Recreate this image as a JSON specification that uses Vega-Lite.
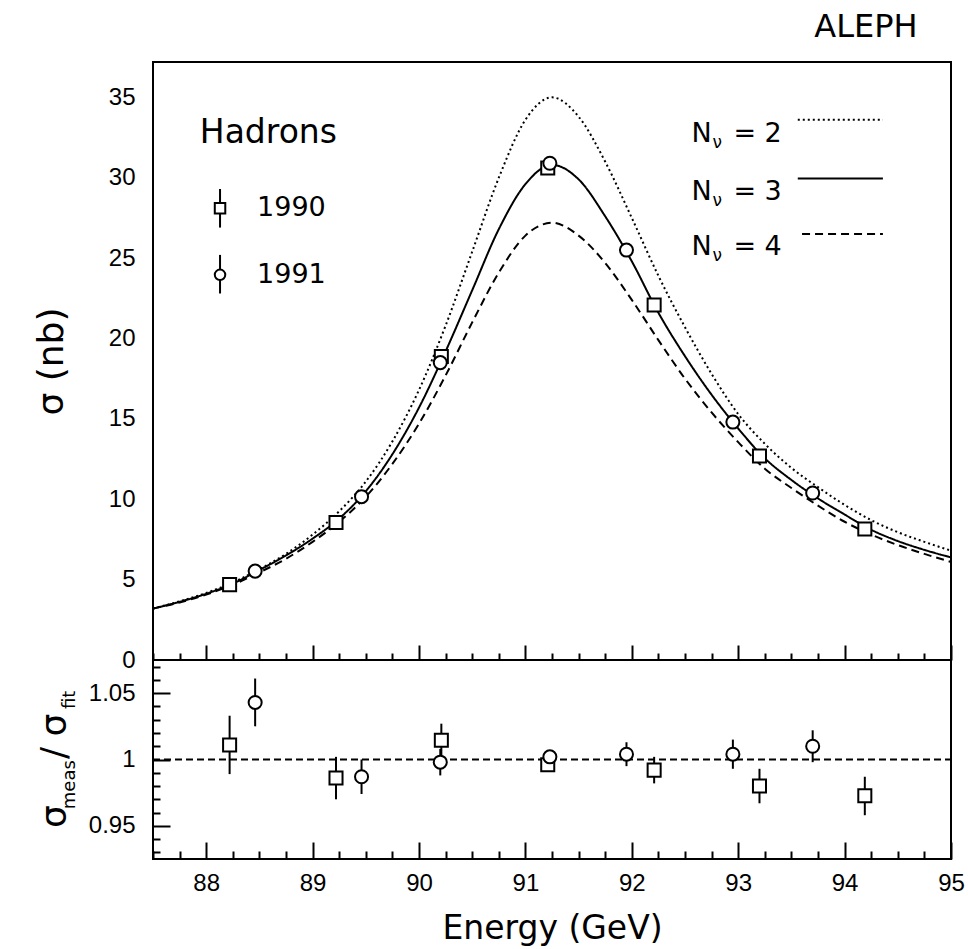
{
  "$schema": "https://vega.github.io/schema/vega-lite/v6.json",
  "background": "white",
  "padding": {"left": 32, "top": 9, "right": 5, "bottom": 5},
  "spacing": 0,
  "bounds": "flush",
  "config": {
    "view": {"stroke": "black", "strokeWidth": 2},
    "font": "DejaVu Sans",
    "text": {"font": "DejaVu Sans", "color": "black"},
    "axis": {
      "domain": false, "grid": false,
      "labelFont": "Liberation Sans", "labelFontSize": 24, "labelColor": "black",
      "tickColor": "black", "tickWidth": 2,
      "titleFont": "DejaVu Sans", "titleFontWeight": "normal", "titleColor": "black"
    }
  },
  "datasets": {
    "curves": [
      {"E": 87.5, "s": 3.2, "N": "3"}, {"E": 87.75, "s": 3.62, "N": "3"}, {"E": 88.0, "s": 4.12, "N": "3"}, {"E": 88.25, "s": 4.75, "N": "3"},
      {"E": 88.5, "s": 5.6, "N": "3"}, {"E": 88.75, "s": 6.5, "N": "3"}, {"E": 89.0, "s": 7.55, "N": "3"}, {"E": 89.25, "s": 8.8, "N": "3"},
      {"E": 89.5, "s": 10.5, "N": "3"}, {"E": 89.75, "s": 12.8, "N": "3"}, {"E": 90.0, "s": 15.7, "N": "3"}, {"E": 90.25, "s": 19.2, "N": "3"},
      {"E": 90.5, "s": 23.0, "N": "3"}, {"E": 90.75, "s": 26.8, "N": "3"}, {"E": 91.0, "s": 29.6, "N": "3"}, {"E": 91.25, "s": 30.8, "N": "3"},
      {"E": 91.5, "s": 29.9, "N": "3"}, {"E": 91.75, "s": 27.6, "N": "3"}, {"E": 92.0, "s": 24.8, "N": "3"}, {"E": 92.25, "s": 21.6, "N": "3"},
      {"E": 92.5, "s": 18.9, "N": "3"}, {"E": 92.75, "s": 16.5, "N": "3"}, {"E": 93.0, "s": 14.4, "N": "3"}, {"E": 93.25, "s": 12.55, "N": "3"},
      {"E": 93.5, "s": 11.2, "N": "3"}, {"E": 93.75, "s": 10.05, "N": "3"}, {"E": 94.0, "s": 9.05, "N": "3"}, {"E": 94.25, "s": 8.1, "N": "3"},
      {"E": 94.5, "s": 7.4, "N": "3"}, {"E": 94.75, "s": 6.85, "N": "3"}, {"E": 95.0, "s": 6.38, "N": "3"},
      {"E": 87.5, "s": 3.2, "N": "2"}, {"E": 87.75, "s": 3.65, "N": "2"}, {"E": 88.0, "s": 4.17, "N": "2"}, {"E": 88.25, "s": 4.82, "N": "2"},
      {"E": 88.5, "s": 5.65, "N": "2"}, {"E": 88.75, "s": 6.6, "N": "2"}, {"E": 89.0, "s": 7.8, "N": "2"}, {"E": 89.25, "s": 9.25, "N": "2"},
      {"E": 89.5, "s": 11.1, "N": "2"}, {"E": 89.75, "s": 13.6, "N": "2"}, {"E": 90.0, "s": 16.8, "N": "2"}, {"E": 90.25, "s": 20.8, "N": "2"},
      {"E": 90.5, "s": 25.4, "N": "2"}, {"E": 90.75, "s": 30.0, "N": "2"}, {"E": 91.0, "s": 33.6, "N": "2"}, {"E": 91.25, "s": 35.0, "N": "2"},
      {"E": 91.5, "s": 33.8, "N": "2"}, {"E": 91.75, "s": 31.0, "N": "2"}, {"E": 92.0, "s": 27.5, "N": "2"}, {"E": 92.25, "s": 23.9, "N": "2"},
      {"E": 92.5, "s": 20.7, "N": "2"}, {"E": 92.75, "s": 17.8, "N": "2"}, {"E": 93.0, "s": 15.3, "N": "2"}, {"E": 93.25, "s": 13.45, "N": "2"},
      {"E": 93.5, "s": 11.95, "N": "2"}, {"E": 93.75, "s": 10.75, "N": "2"}, {"E": 94.0, "s": 9.65, "N": "2"}, {"E": 94.25, "s": 8.7, "N": "2"},
      {"E": 94.5, "s": 7.95, "N": "2"}, {"E": 94.75, "s": 7.35, "N": "2"}, {"E": 95.0, "s": 6.8, "N": "2"},
      {"E": 87.5, "s": 3.2, "N": "4"}, {"E": 87.75, "s": 3.58, "N": "4"}, {"E": 88.0, "s": 4.07, "N": "4"}, {"E": 88.25, "s": 4.68, "N": "4"},
      {"E": 88.5, "s": 5.45, "N": "4"}, {"E": 88.75, "s": 6.3, "N": "4"}, {"E": 89.0, "s": 7.35, "N": "4"}, {"E": 89.25, "s": 8.6, "N": "4"},
      {"E": 89.5, "s": 10.15, "N": "4"}, {"E": 89.75, "s": 12.2, "N": "4"}, {"E": 90.0, "s": 14.7, "N": "4"}, {"E": 90.25, "s": 17.7, "N": "4"},
      {"E": 90.5, "s": 21.0, "N": "4"}, {"E": 90.75, "s": 24.1, "N": "4"}, {"E": 91.0, "s": 26.4, "N": "4"}, {"E": 91.25, "s": 27.2, "N": "4"},
      {"E": 91.5, "s": 26.4, "N": "4"}, {"E": 91.75, "s": 24.7, "N": "4"}, {"E": 92.0, "s": 22.4, "N": "4"}, {"E": 92.25, "s": 19.9, "N": "4"},
      {"E": 92.5, "s": 17.5, "N": "4"}, {"E": 92.75, "s": 15.4, "N": "4"}, {"E": 93.0, "s": 13.55, "N": "4"}, {"E": 93.25, "s": 11.9, "N": "4"},
      {"E": 93.5, "s": 10.7, "N": "4"}, {"E": 93.75, "s": 9.6, "N": "4"}, {"E": 94.0, "s": 8.6, "N": "4"}, {"E": 94.25, "s": 7.8, "N": "4"},
      {"E": 94.5, "s": 7.15, "N": "4"}, {"E": 94.75, "s": 6.6, "N": "4"}, {"E": 95.0, "s": 6.1, "N": "4"}
    ],
    "legendLines": [
      {"E": 93.56, "s": 33.6, "N": "2"}, {"E": 94.36, "s": 33.6, "N": "2"},
      {"E": 93.56, "s": 29.95, "N": "3"}, {"E": 94.36, "s": 29.95, "N": "3"},
      {"E": 93.6, "s": 26.5, "N": "4"}, {"E": 94.36, "s": 26.5, "N": "4"}
    ],
    "sigma": [
      {"E": 88.22, "s": 4.69, "year": "1990"}, {"E": 89.22, "s": 8.55, "year": "1990"}, {"E": 90.21, "s": 18.88, "year": "1990"},
      {"E": 91.21, "s": 30.6, "year": "1990"}, {"E": 92.21, "s": 22.08, "year": "1990"}, {"E": 93.2, "s": 12.69, "year": "1990"},
      {"E": 94.19, "s": 8.15, "year": "1990"},
      {"E": 88.46, "s": 5.53, "year": "1991"}, {"E": 89.46, "s": 10.16, "year": "1991"}, {"E": 90.2, "s": 18.5, "year": "1991"},
      {"E": 91.23, "s": 30.9, "year": "1991"}, {"E": 91.95, "s": 25.5, "year": "1991"}, {"E": 92.95, "s": 14.8, "year": "1991"},
      {"E": 93.7, "s": 10.39, "year": "1991"}
    ],
    "legendSym": [
      {"E": 88.13, "s": 28.1, "lo": 26.9, "hi": 29.3, "year": "1990"},
      {"E": 88.13, "s": 23.96, "lo": 22.8, "hi": 25.2, "year": "1991"}
    ],
    "nuLegend": [
      {"E": 92.56, "s": 32.7, "eq": "= 2"},
      {"E": 92.56, "s": 29.1, "eq": "= 3"},
      {"E": 92.56, "s": 25.7, "eq": "= 4"}
    ],
    "ratio": [
      {"E": 88.22, "r": 1.011, "lo": 0.989, "hi": 1.033, "year": "1990"},
      {"E": 89.22, "r": 0.986, "lo": 0.970, "hi": 1.002, "year": "1990"},
      {"E": 90.21, "r": 1.0145, "lo": 1.003, "hi": 1.027, "year": "1990"},
      {"E": 91.21, "r": 0.996, "lo": 0.991, "hi": 1.001, "year": "1990"},
      {"E": 92.21, "r": 0.992, "lo": 0.982, "hi": 1.002, "year": "1990"},
      {"E": 93.2, "r": 0.980, "lo": 0.967, "hi": 0.993, "year": "1990"},
      {"E": 94.19, "r": 0.9726, "lo": 0.958, "hi": 0.987, "year": "1990"},
      {"E": 88.46, "r": 1.043, "lo": 1.025, "hi": 1.061, "year": "1991"},
      {"E": 89.46, "r": 0.987, "lo": 0.974, "hi": 1.0, "year": "1991"},
      {"E": 90.2, "r": 0.998, "lo": 0.988, "hi": 1.008, "year": "1991"},
      {"E": 91.23, "r": 1.002, "lo": 0.998, "hi": 1.006, "year": "1991"},
      {"E": 91.95, "r": 1.004, "lo": 0.995, "hi": 1.013, "year": "1991"},
      {"E": 92.95, "r": 1.004, "lo": 0.993, "hi": 1.015, "year": "1991"},
      {"E": 93.7, "r": 1.010, "lo": 0.998, "hi": 1.022, "year": "1991"}
    ]
  },
  "vconcat": [
    {
      "width": 798,
      "height": 598,
      "encoding": {
        "x": {
          "field": "E", "type": "quantitative",
          "scale": {"domain": [87.5, 95], "nice": false, "zero": false},
          "axis": {
            "title": null, "labels": false,
            "values": [87.5, 87.75, 88, 88.25, 88.5, 88.75, 89, 89.25, 89.5, 89.75, 90, 90.25, 90.5, 90.75, 91, 91.25, 91.5, 91.75, 92, 92.25, 92.5, 92.75, 93, 93.25, 93.5, 93.75, 94, 94.25, 94.5, 94.75, 95],
            "tickSize": {"condition": {"test": "datum.value % 1 == 0", "value": -15}, "value": -7}
          }
        },
        "y": {
          "field": "s", "type": "quantitative",
          "scale": {"domain": [0, 37.2], "nice": false, "zero": false},
          "axis": {
            "title": "σ (nb)", "titleFontSize": 36, "titlePadding": 38,
            "values": [0, 5, 10, 15, 20, 25, 30, 35],
            "ticks": false, "labelPadding": 18
          }
        }
      },
      "layer": [
        {
          "data": {"name": "curves"},
          "mark": {"type": "line", "interpolate": "monotone", "strokeWidth": 2, "color": "black"},
          "encoding": {
            "strokeDash": {"field": "N", "type": "nominal", "scale": {"domain": ["2", "3", "4"], "range": [[2, 3], [1, 0], [8, 5]]}, "legend": null}
          }
        },
        {
          "data": {"name": "legendLines"},
          "mark": {"type": "line", "strokeWidth": 2, "color": "black"},
          "encoding": {
            "strokeDash": {"field": "N", "type": "nominal", "scale": {"domain": ["2", "3", "4"], "range": [[2, 3], [1, 0], [8, 5]]}, "legend": null}
          }
        },
        {
          "data": {"name": "sigma"},
          "mark": {"type": "point", "filled": true, "fill": "white", "stroke": "black", "strokeWidth": 2, "size": 170, "opacity": 1},
          "encoding": {
            "shape": {"field": "year", "type": "nominal", "scale": {"domain": ["1990", "1991"], "range": ["square", "circle"]}, "legend": null}
          }
        },
        {
          "data": {"name": "legendSym"},
          "mark": {"type": "rule", "strokeWidth": 2, "color": "black"},
          "encoding": {"y": {"field": "lo", "type": "quantitative"}, "y2": {"field": "hi"}}
        },
        {
          "data": {"name": "legendSym"},
          "mark": {"type": "point", "filled": true, "fill": "white", "stroke": "black", "strokeWidth": 2, "size": 110, "opacity": 1},
          "encoding": {
            "shape": {"field": "year", "type": "nominal", "scale": {"domain": ["1990", "1991"], "range": ["square", "circle"]}, "legend": null}
          }
        },
        {
          "data": {"name": "legendSym"},
          "mark": {"type": "text", "align": "left", "baseline": "middle", "fontSize": 27, "dx": 37},
          "encoding": {"text": {"field": "year"}}
        },
        {
          "data": {"values": [{"E": 87.94, "s": 32.8, "t": "Hadrons"}]},
          "mark": {"type": "text", "align": "left", "baseline": "middle", "fontSize": 33},
          "encoding": {"text": {"field": "t"}}
        },
        {
          "data": {"name": "nuLegend"},
          "mark": {"type": "text", "align": "left", "baseline": "middle", "fontSize": 27, "text": "N"}
        },
        {
          "data": {"name": "nuLegend"},
          "mark": {"type": "text", "align": "left", "baseline": "middle", "fontSize": 17, "text": "ν", "dx": 21, "dy": 9}
        },
        {
          "data": {"name": "nuLegend"},
          "mark": {"type": "text", "align": "left", "baseline": "middle", "fontSize": 27, "dx": 42},
          "encoding": {"text": {"field": "eq"}}
        },
        {
          "data": {"values": [{"E": 94.2, "s": 39.4, "t": "ALEPH"}]},
          "mark": {"type": "text", "align": "center", "baseline": "middle", "fontSize": 32},
          "encoding": {"text": {"field": "t"}}
        }
      ]
    },
    {
      "width": 798,
      "height": 199,
      "encoding": {
        "x": {
          "field": "E", "type": "quantitative",
          "scale": {"domain": [87.5, 95], "nice": false, "zero": false},
          "axis": {
            "title": "Energy (GeV)", "titleFontSize": 33, "titlePadding": 8,
            "values": [87.5, 87.75, 88, 88.25, 88.5, 88.75, 89, 89.25, 89.5, 89.75, 90, 90.25, 90.5, 90.75, 91, 91.25, 91.5, 91.75, 92, 92.25, 92.5, 92.75, 93, 93.25, 93.5, 93.75, 94, 94.25, 94.5, 94.75, 95],
            "labelExpr": "datum.value % 1 == 0 ? toString(datum.value) : ''",
            "labelFlush": false, "labelOverlap": false,
            "tickSize": {"condition": {"test": "datum.value % 1 == 0", "value": -17}, "value": -8},
            "labelPadding": 29
          }
        },
        "y": {
          "field": "r", "type": "quantitative",
          "scale": {"domain": [0.925, 1.075], "nice": false, "zero": false},
          "axis": {
            "title": null,
            "values": [0.93, 0.94, 0.95, 0.96, 0.97, 0.98, 0.99, 1, 1.01, 1.02, 1.03, 1.04, 1.05, 1.06, 1.07],
            "labelExpr": "round(datum.value*100) == 95 ? '0.95' : (round(datum.value*100) == 100 ? '1' : (round(datum.value*100) == 105 ? '1.05' : ''))",
            "labelOverlap": false,
            "tickSize": {"condition": {"test": "round(datum.value*100) % 5 == 0", "value": -17}, "value": -7},
            "labelPadding": 35
          }
        }
      },
      "layer": [
        {
          "data": {"values": [{"E": 87.5, "E2": 95, "r": 1}]},
          "mark": {"type": "rule", "strokeWidth": 2, "strokeDash": [7, 4], "color": "black"},
          "encoding": {"x2": {"field": "E2"}}
        },
        {
          "data": {"name": "ratio"},
          "mark": {"type": "rule", "strokeWidth": 2, "color": "black"},
          "encoding": {"y": {"field": "lo", "type": "quantitative"}, "y2": {"field": "hi"}}
        },
        {
          "data": {"name": "ratio"},
          "mark": {"type": "point", "filled": true, "fill": "white", "stroke": "black", "strokeWidth": 2, "size": 170, "opacity": 1},
          "encoding": {
            "shape": {"field": "year", "type": "nominal", "scale": {"domain": ["1990", "1991"], "range": ["square", "circle"]}, "legend": null}
          }
        },
        {
          "data": {"values": [{"E": 86.58, "r": 0.957, "t": "σ"}, {"E": 86.58, "r": 1.005, "t": "/"}, {"E": 86.58, "r": 1.026, "t": "σ"}]},
          "mark": {"type": "text", "align": "center", "baseline": "middle", "fontSize": 36, "angle": 270},
          "encoding": {"text": {"field": "t"}}
        },
        {
          "data": {"values": [{"E": 86.58, "r": 0.981, "t": "meas"}, {"E": 86.58, "r": 1.045, "t": "fit"}]},
          "mark": {"type": "text", "align": "center", "baseline": "middle", "fontSize": 18, "angle": 270, "dy": 15},
          "encoding": {"text": {"field": "t"}}
        }
      ]
    }
  ]
}
